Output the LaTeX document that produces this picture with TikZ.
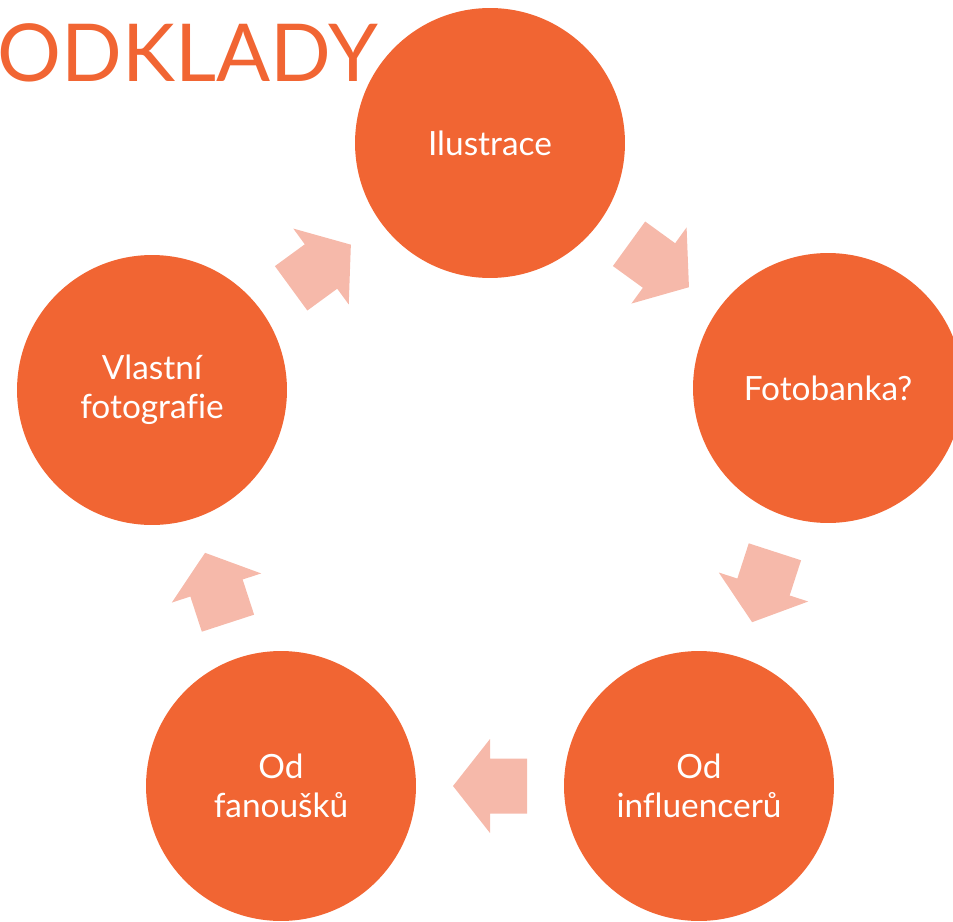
\documentclass[tikz,border=0pt]{standalone}
\usepackage{fontspec}
\setmainfont{Lato}[Ligatures=NoCommon]
\usetikzlibrary{positioning}
\definecolor{odorange}{RGB}{241,101,51}
\definecolor{odpink}{RGB}{246,185,170}
\tikzset{
    bubble/.style={circle, fill=odorange, text=white, minimum size=5.4cm, inner sep=0pt,
        align=center, font=\fontsize{19}{22}\selectfont},
    blockarrow/.pic={\fill[odpink](-37, -27.5)--(0, -27.5)--(0, -47)--(37, 0)--(0, 47)--(0, 27.5)--(-37, 27.5)--cycle;}
}

\begin{document}
\begin{tikzpicture}[x=0.02cm, y=0.02cm]
    \useasboundingbox(0, 0)rectangle(953, 921);
    \clip(0, 0)rectangle(953, 921);
    \node[bubble](ilu) at (490, 778){Ilustrace};
    \node[bubble](foto) at (828, 533){Fotobanka?};
    \node[bubble](infl) at (699, 135){Od\\influencerů};
    \node[bubble](fan) at (281, 135){Od\\fanoušků};
    \node[bubble](vlast) at (152, 531){Vlastní\\fotografie};
    \node[anchor=base west, inner sep=0pt, text=odorange, font=\fontsize{45.5}{50}\selectfont](title) at (-3, 839){ODKLADY};
    % arrows of the cycle
    \path(ilu)--(foto)pic[pos=.5, sloped, allow upside down]{blockarrow};
    \path(foto)--(infl)pic[pos=.5, sloped, allow upside down]{blockarrow};
    \path(infl)--(fan)pic[pos=.5, sloped, allow upside down]{blockarrow};
    \path(fan)--(vlast)pic[pos=.5, sloped, allow upside down]{blockarrow};
    \path(vlast)--(ilu)pic[pos=.5, sloped, allow upside down]{blockarrow};
\end{tikzpicture}
\end{document}
